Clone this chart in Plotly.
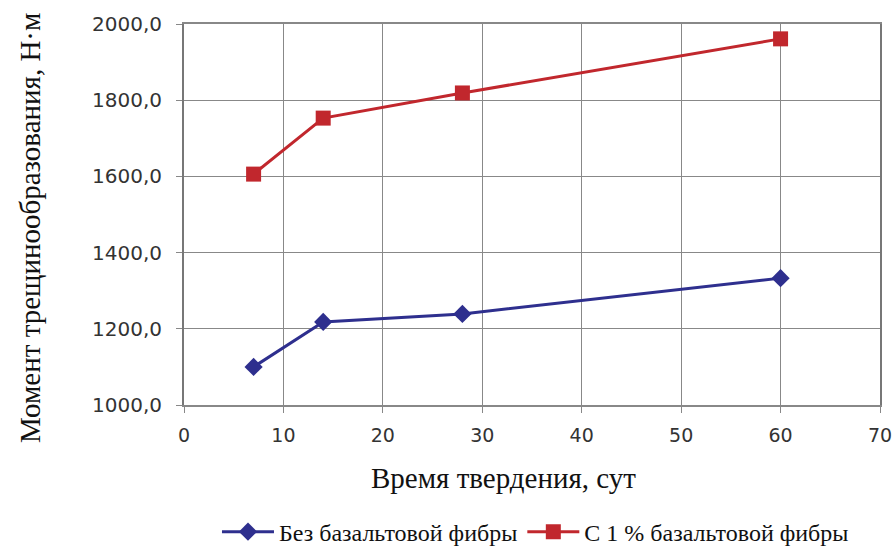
import plotly.graph_objects as go

days = [7, 14, 28, 60]
no_fiber = [1100, 1218, 1239, 1333]
with_fiber = [1606, 1753, 1819, 1961]
series_names = ["Без базальтовой фибры", "С 1 % базальтовой фибры"]
x_title = "Время твердения, сут"
y_title = "Момент трещинообразования, Н·м"

fig = go.Figure()
fig.add_trace(go.Scatter(x=days, y=no_fiber, name=series_names[0], mode="lines+markers",
                         line=dict(color="#2E2F8E", width=3),
                         marker=dict(symbol="diamond", size=14, color="#2E2F8E")))
fig.add_trace(go.Scatter(x=days, y=with_fiber, name=series_names[1], mode="lines+markers",
                         line=dict(color="#C1272D", width=3),
                         marker=dict(symbol="square", size=15, color="#C1272D")))

fig.update_layout(
    width=895, height=556,
    margin=dict(l=184, r=15, t=24, b=151, autoexpand=False),
    paper_bgcolor="white", plot_bgcolor="white",
    showlegend=True,
    legend=dict(orientation="h", xref="paper", x=0.505, xanchor="center",
                yref="container", y=0.043, yanchor="middle",
                font=dict(family="Liberation Serif", size=24, color="#111"),
                itemwidth=52, tracegroupgap=0),
    xaxis=dict(range=[0, 70], dtick=10, tick0=0, automargin=False,
               showgrid=True, gridcolor="#888", gridwidth=1,
               showline=True, linecolor="#888", linewidth=2, mirror=True,
               ticks="outside", ticklen=6, tickcolor="#888",
               ticklabelstandoff=6,
               tickfont=dict(family="DejaVu Sans", size=19, color="#333"),
               zeroline=False),
    yaxis=dict(range=[1000, 2000], dtick=200, tick0=1000, tickformat=".1f", automargin=False,
               showgrid=True, gridcolor="#888", gridwidth=1,
               showline=True, linecolor="#777", linewidth=2, mirror=True,
               ticks="outside", ticklen=6, tickcolor="#888",
               ticklabelstandoff=10,
               tickfont=dict(family="DejaVu Sans", size=20, color="#333"),
               zeroline=False),
    separators=", ",
    annotations=[
        dict(text=x_title, xref="paper", yref="paper", x=(503 - 184) / 696, y=-(478 - 405) / 381,
             xanchor="center", yanchor="middle", showarrow=False,
             font=dict(family="Liberation Serif", size=29, color="#111")),
        dict(text=y_title, xref="paper", yref="paper", x=(30 - 184) / 696, y=(405 - 228) / 381,
             xanchor="center", yanchor="middle", showarrow=False, textangle=-90,
             font=dict(family="Liberation Serif", size=29, color="#111")),
    ],
)
fig.write_html("out.html")
